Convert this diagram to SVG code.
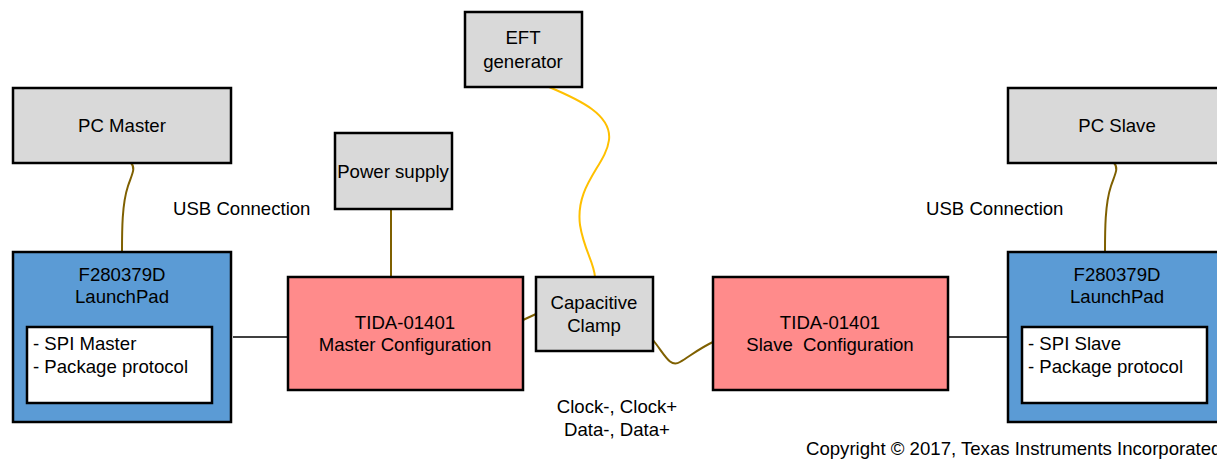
<svg xmlns="http://www.w3.org/2000/svg" width="1217" height="460" viewBox="0 0 1217 460">
<style>
text{font-family:"Liberation Sans",Arial,sans-serif;font-size:18.6px;fill:#000;white-space:pre}
.c{text-anchor:middle}
.box{stroke:#000;stroke-width:2.5}
.gray{fill:#d9d9d9}
.blue{fill:#5b9bd5}
.pink{fill:#ff8b8b}
.white{fill:#fff}
.ol{fill:none;stroke:#7f6000;stroke-width:2}
.bk{fill:none;stroke:#000;stroke-width:1.5}
.yl{fill:none;stroke:#ffc000;stroke-width:2}
</style>
<rect width="1217" height="460" fill="#fff"/>
<g id="connectors">
<path class="ol" d="M131,163 C136,168 132,174 128,186 C122,204 122,230 122,252"/>
<path class="ol" d="M1114,163 C1119,168 1115,174 1111,186 C1105,204 1105,230 1105,252"/>
<path class="bk" d="M233,337 L288,337"/>
<path class="bk" d="M948,337 L1008,337"/>
<path class="ol" d="M391,209 L391,277"/>
<path class="ol" d="M523,320 L536,314"/>
<path class="ol" d="M653,340 C665,355 670,368 680,362 C690,356 700,348 713,342"/>
<path class="yl" d="M549,87 C580,100 612,115 609,140 C606,165 575,185 580,225 C584,250 594,262 595,277"/>
</g>
<g id="pc-master"><rect class="box gray" x="13" y="88" width="218" height="75"/><text class="c" x="122" y="132">PC Master</text></g>
<g id="launchpad-master"><rect class="box blue" x="13" y="252" width="218" height="170"/><text class="c" x="122" y="281">F280379D</text><text class="c" x="122" y="303">LaunchPad</text>
<rect class="box white" x="27" y="327" width="185" height="76"/><text x="33" y="350">- SPI Master</text><text x="33" y="373">- Package protocol</text></g>
<g id="power-supply"><rect class="box gray" x="335" y="133" width="117" height="76"/><text class="c" x="393" y="178">Power supply</text></g>
<g id="eft"><rect class="box gray" x="465" y="12" width="117" height="75"/><text class="c" x="523" y="44">EFT</text><text class="c" x="523" y="68">generator</text></g>
<g id="tida-master"><rect class="box pink" x="288" y="277" width="235" height="113"/><text class="c" x="405" y="329">TIDA-01401</text><text class="c" x="405" y="351">Master Configuration</text></g>
<g id="clamp"><rect class="box gray" x="536" y="277" width="117" height="74"/><text class="c" x="594" y="309">Capacitive</text><text class="c" x="594" y="332">Clamp</text></g>
<g id="tida-slave"><rect class="box pink" x="713" y="277" width="235" height="113"/><text class="c" x="830" y="329">TIDA-01401</text><text class="c" x="830" y="351">Slave  Configuration</text></g>
<g id="pc-slave"><rect class="box gray" x="1008" y="88" width="218" height="75"/><text class="c" x="1117" y="132">PC Slave</text></g>
<g id="launchpad-slave"><rect class="box blue" x="1008" y="252" width="218" height="170"/><text class="c" x="1117" y="281">F280379D</text><text class="c" x="1117" y="303">LaunchPad</text>
<rect class="box white" x="1022" y="327" width="185" height="76"/><text x="1028" y="350">- SPI Slave</text><text x="1028" y="373">- Package protocol</text></g>
<text x="173" y="215">USB Connection</text>
<text x="926" y="215">USB Connection</text>
<text class="c" x="617" y="413">Clock-, Clock+</text>
<text class="c" x="617" y="436">Data-, Data+</text>
<text x="806" y="455">Copyright © 2017, Texas Instruments Incorporated</text>
</svg>
